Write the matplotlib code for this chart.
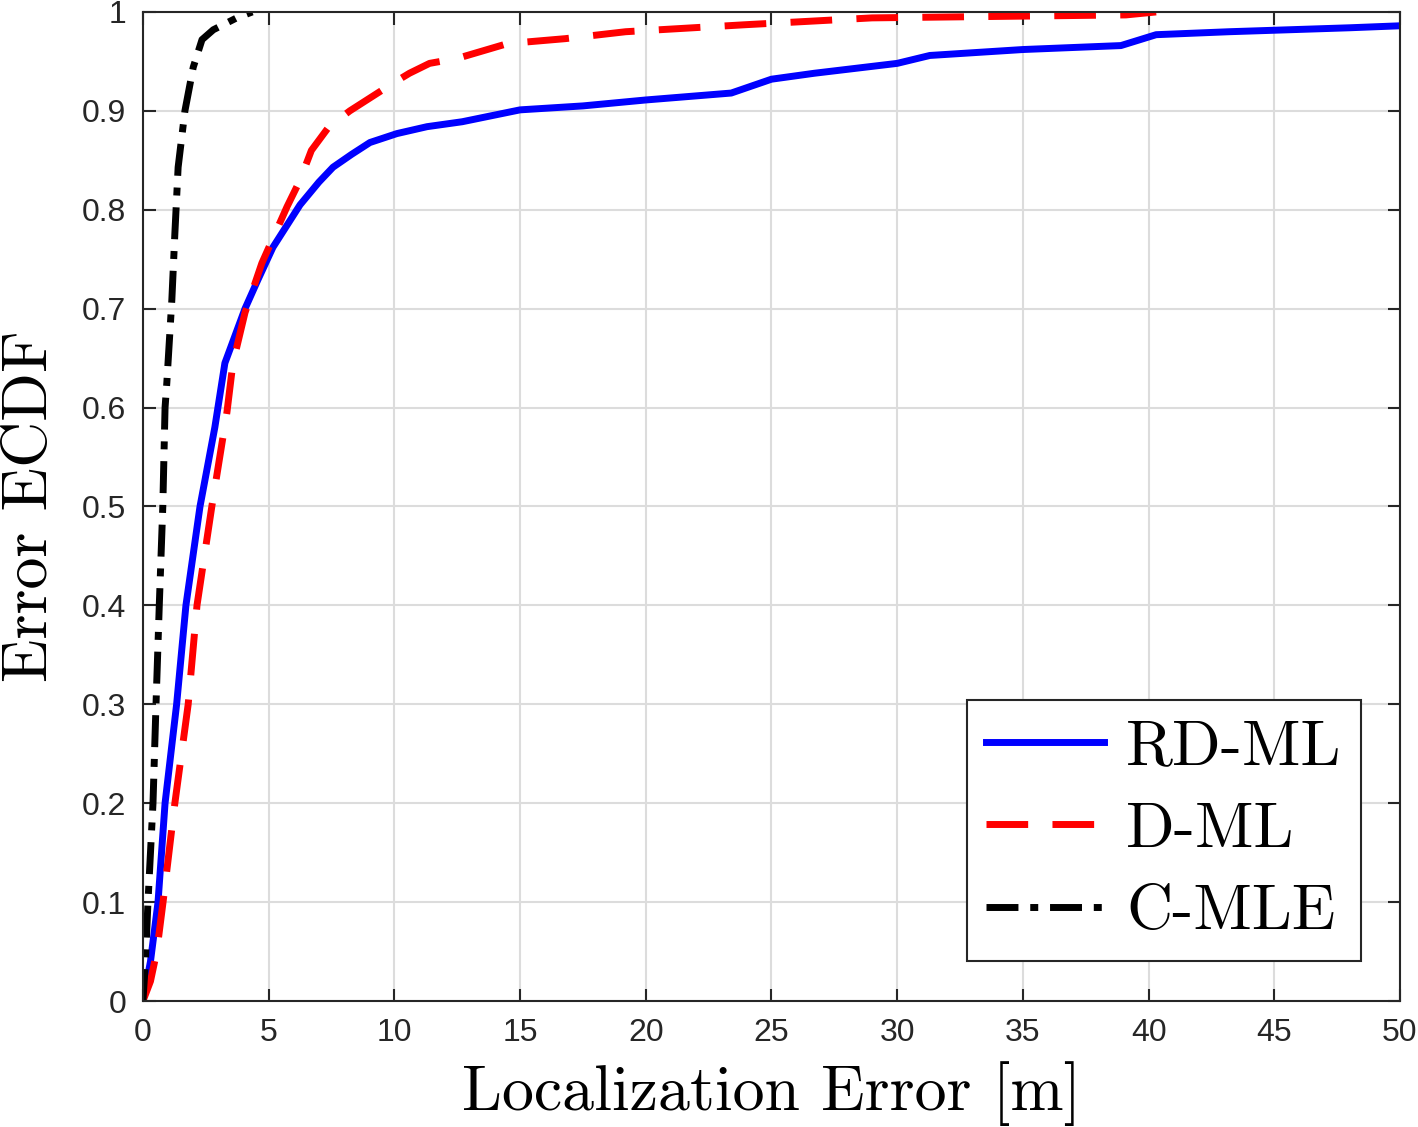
import matplotlib.pyplot as plt
import numpy as np

# RD-ML
rd_x = [0, 0.3, 0.6, 0.88, 1.34, 1.71, 2.27, 2.86, 3.26, 4.06, 4.57, 5.17, 6.25, 7.0,
        7.56, 8.3, 9.03, 10.1, 11.3, 12.7, 15, 17.5, 20, 23.4, 25, 26.7, 30, 31.3, 35,
        38.9, 40.3, 43.2, 48, 50]
rd_y = [0, 0.04, 0.1, 0.2, 0.3, 0.4, 0.5, 0.58, 0.645, 0.7, 0.729, 0.762, 0.805, 0.828,
        0.843, 0.856, 0.868, 0.877, 0.884, 0.889, 0.901, 0.905, 0.911, 0.918, 0.932,
        0.938, 0.948, 0.956, 0.962, 0.966, 0.977, 0.98, 0.984, 0.986]

# D-ML
d_x = [0, 0.3, 0.55, 0.8, 1.27, 1.8, 2.15, 2.74, 3.34, 3.58, 4.06, 4.73, 5.45, 5.73,
       6.25, 6.7, 7.4, 8.23, 9.95, 10.6, 11.4, 12.5, 14.5, 16.8, 19.2, 23.9, 29, 39.1,
       40.3]
d_y = [0, 0.02, 0.05, 0.1, 0.2, 0.3, 0.4, 0.5, 0.595, 0.645, 0.696, 0.746, 0.787, 0.803,
       0.83, 0.86, 0.884, 0.9, 0.928, 0.938, 0.948, 0.953, 0.968, 0.973, 0.98, 0.987,
       0.994, 0.997, 1.0]

# C-MLE
c_x = [0, 0.1, 0.2, 0.4, 0.52, 0.65, 0.79, 0.88, 0.95, 1.15, 1.27, 1.4, 1.67, 2.0,
       2.35, 2.8, 3.73, 4.35]
c_y = [0, 0.04, 0.1, 0.2, 0.3, 0.4, 0.5, 0.6, 0.625, 0.709, 0.776, 0.843, 0.9, 0.944,
       0.972, 0.982, 0.994, 1.0]

x_ticks = np.arange(0, 51, 5)
y_ticks = np.round(np.arange(0, 1.01, 0.1), 1)

plt.rcParams['font.family'] = ['Liberation Sans', 'DejaVu Sans']

fig = plt.figure(figsize=(14.18, 11.27), dpi=100)
ax = fig.add_axes([0.1008, 0.1118, 0.8865, 0.8776])

ax.plot(rd_x, rd_y, color='#0000ff', lw=5, label='RD-ML')
ax.plot(d_x, d_y, color='#ff0000', lw=5, dashes=(6, 3.5), label='D-ML')
ax.plot(c_x, c_y, color='black', lw=5, dashes=(4.6, 1.7, 1.15, 1.7), label='C-MLE')

ax.set_xlim(0, 50)
ax.set_ylim(0, 1)
ax.set_xticks(x_ticks)
ax.set_yticks(y_ticks)
ax.set_yticklabels([f'{v:g}' for v in y_ticks])
ax.tick_params(direction='in', length=9, width=1.5, color='#262626', labelsize=23,
               labelcolor='#262626', top=True, right=True, pad=12)
ax.grid(True, color='#dcdcdc', lw=1.5)
for s in ax.spines.values():
    s.set_color('#262626')
    s.set_linewidth(1.5)

ax.set_xlabel('Localization Error [m]', family='cmr10', fontsize=46, labelpad=10)
ax.set_ylabel('Error ECDF', family='cmr10', fontsize=46, labelpad=16)

leg = ax.legend(loc='lower right', bbox_to_anchor=(0.969, 0.0404), borderaxespad=0,
                prop={'family': 'cmr10', 'size': 46}, fancybox=False, framealpha=1,
                edgecolor='#262626', handlelength=1.85, labelspacing=0.38,
                borderpad=0.3, handletextpad=0.35)
leg.get_frame().set_linewidth(1.5)

fig.savefig('out.png', dpi=100)
